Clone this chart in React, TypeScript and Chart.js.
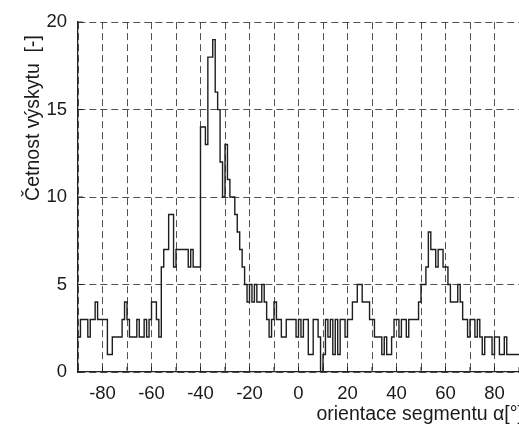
import React, { useEffect, useRef } from 'react';
import { Chart, registerables } from 'chart.js';

Chart.register(...registerables);

// Histogram definition: 1-degree bins from -90 to 90
const BIN_START = -90;
const BIN_WIDTH = 1;
const X_MIN = -90;
const X_MAX = 90;
const Y_MIN = 0;
const Y_MAX = 20;
const X_GRID_STEP = 10;
const X_LABEL_STEP = 20;
const Y_STEP = 5;

// Counts per bin
const countsA = [2, 3, 3, 3, 2, 3, 3, 4, 3, 3, 3, 3, 1, 1, 2, 2, 2, 2, 3, 4, 3, 2, 2, 2, 3, 2, 2, 3, 2, 3]; // -90..-61
const countsB = [4, 4, 3, 2, 6, 7, 7, 9, 9, 6, 7, 7, 7, 7, 7, 6, 7, 6, 6, 6, 14, 14, 13, 18, 18, 19, 16, 15, 12, 10]; // -60..-31
const countsC = [13, 11, 10, 10, 9, 8, 7, 6, 5, 4, 5, 4, 5, 4, 4, 5, 4, 3, 2, 3, 4, 3, 3, 2, 2, 3, 3, 3, 3, 2]; // -30..-1
const countsD = [3, 2, 3, 3, 1, 1, 3, 3, 2, 0, 1, 3, 2, 3, 1, 3, 1, 3, 3, 2, 3, 3, 4, 4, 5, 5, 4, 4, 4, 3]; // 0..29
const countsE = [3, 2, 2, 2, 1, 2, 1, 1, 2, 3, 3, 2, 3, 3, 2, 3, 3, 3, 3, 4, 5, 5, 6, 8, 7, 7, 6, 7, 7, 6]; // 30..59
const countsF = [6, 5, 4, 4, 4, 5, 4, 3, 3, 2, 3, 3, 2, 3, 2, 1, 2, 2, 2, 1, 2, 2, 1, 1, 2, 1, 1, 1, 1, 1]; // 60..89

const counts = [...countsA, ...countsB, ...countsC, ...countsD, ...countsE, ...countsF];

const X_TITLE = 'orientace segmentu α[°]';
const Y_TITLE = 'Četnost výskytu  [-]';

const FONT = "'Liberation Sans', Arial, sans-serif";
const TEXT_COLOR = '#1a1a1a';
const AXIS_COLOR = '#222222';
const GRID_COLOR = 'rgba(50,50,50,0.85)';

export default function App() {
  const ref = useRef<HTMLCanvasElement>(null);

  useEffect(() => {
    if (!ref.current) return;
    const pts = counts.map((c, i) => ({ x: BIN_START + i * BIN_WIDTH, y: c }));
    pts.push({ x: BIN_START + counts.length * BIN_WIDTH, y: counts[counts.length - 1] });

    const inwardTicks = {
      id: 'inwardTicks',
      afterDraw(chart: any) {
        const { ctx, chartArea, scales } = chart;
        const xs = scales.x;
        const ys = scales.y;
        ctx.save();
        ctx.strokeStyle = AXIS_COLOR;
        ctx.lineWidth = 1;
        ctx.beginPath();
        xs.ticks.forEach((t: any) => {
          const px = xs.getPixelForValue(t.value);
          ctx.moveTo(px, chartArea.bottom);
          ctx.lineTo(px, chartArea.bottom - 5);
        });
        ys.ticks.forEach((t: any) => {
          const py = ys.getPixelForValue(t.value);
          ctx.moveTo(chartArea.left, py);
          ctx.lineTo(chartArea.left + 5, py);
        });
        ctx.stroke();
        ctx.restore();
      },
    };

    const axisTitles = {
      id: 'axisTitles',
      afterDraw(chart: any) {
        const { ctx, chartArea } = chart;
        ctx.save();
        ctx.fillStyle = TEXT_COLOR;
        ctx.font = `19.5px ${FONT}`;
        // x title: right-aligned just past the right end of the axis
        ctx.textAlign = 'right';
        ctx.textBaseline = 'alphabetic';
        ctx.fillText(X_TITLE, chartArea.right + 4, 420);
        // y title: rotated, ending a little below the top of the axis
        ctx.translate(34, chartArea.top + 13);
        ctx.rotate(-Math.PI / 2);
        ctx.textAlign = 'right';
        ctx.textBaseline = 'middle';
        ctx.fillText(Y_TITLE, 0, 0);
        ctx.restore();
      },
    };

    const chart = new Chart(ref.current, {
      type: 'line',
      data: {
        datasets: [
          {
            data: pts,
            stepped: 'before',
            borderColor: '#1e1e1e',
            borderWidth: 1.4,
            pointRadius: 0,
            fill: false,
          },
        ],
      },
      options: {
        animation: false,
        responsive: true,
        maintainAspectRatio: false,
        layout: { padding: { top: 15, right: 9, left: 0, bottom: 0 } },
        plugins: {
          legend: { display: false },
          tooltip: { enabled: false },
        },
        scales: {
          x: {
            type: 'linear',
            min: X_MIN,
            max: X_MAX,
            afterFit: (s: any) => {
              s.height = 53;
            },
            ticks: {
              stepSize: X_GRID_STEP,
              autoSkip: false,
              maxRotation: 0,
              padding: 11,
              color: TEXT_COLOR,
              font: { family: FONT, size: 18.5 },
              callback: (v: any) => (Number(v) % X_LABEL_STEP === 0 ? String(v) : ''),
            },
            grid: {
              color: GRID_COLOR,
              lineWidth: 1,
              drawTicks: false,
            },
            border: { display: true, color: AXIS_COLOR, width: 1.3, dash: [7, 4] },
          },
          y: {
            type: 'linear',
            min: Y_MIN,
            max: Y_MAX,
            afterFit: (s: any) => {
              s.width = 78;
            },
            ticks: {
              stepSize: Y_STEP,
              padding: 11,
              color: TEXT_COLOR,
              font: { family: FONT, size: 18.5 },
            },
            grid: {
              color: GRID_COLOR,
              lineWidth: 1,
              drawTicks: false,
            },
            border: { display: true, color: AXIS_COLOR, width: 1.3, dash: [7, 4] },
          },
        },
      },
      plugins: [inwardTicks, axisTitles],
    });
    return () => chart.destroy();
  }, []);

  return (
    <div
      style={{
        position: 'fixed',
        left: 0,
        top: 0,
        width: 519,
        height: 425,
        overflow: 'hidden',
        background: '#ffffff',
      }}
    >
      <div style={{ position: 'relative', width: 530, height: 425 }}>
        <canvas ref={ref} />
      </div>
    </div>
  );
}
